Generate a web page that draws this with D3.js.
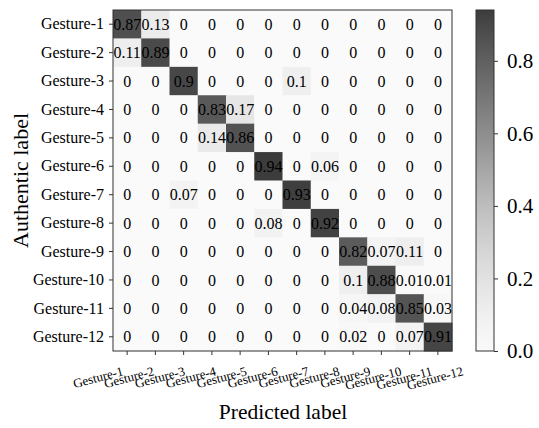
<!DOCTYPE html>
<html><head><meta charset="utf-8">
<script src="https://cdn.jsdelivr.net/npm/d3@7"></script>
<style>body{margin:0;background:#fff}svg{display:block}
svg text{font-family:"Liberation Serif","DejaVu Serif",serif !important;}</style>
</head><body>
<svg id="chart" width="539" height="428"></svg>
<script>
const labels = ["Gesture-1","Gesture-2","Gesture-3","Gesture-4","Gesture-5","Gesture-6",
  "Gesture-7","Gesture-8","Gesture-9","Gesture-10","Gesture-11","Gesture-12"];
const row1  = [0.87,0.13,0,0,0,0,0,0,0,0,0,0];
const row2  = [0.11,0.89,0,0,0,0,0,0,0,0,0,0];
const row3  = [0,0,0.9,0,0,0,0.1,0,0,0,0,0];
const row4  = [0,0,0,0.83,0.17,0,0,0,0,0,0,0];
const row5  = [0,0,0,0.14,0.86,0,0,0,0,0,0,0];
const row6  = [0,0,0,0,0,0.94,0,0.06,0,0,0,0];
const row7  = [0,0,0.07,0,0,0,0.93,0,0,0,0,0];
const row8  = [0,0,0,0,0,0.08,0,0.92,0,0,0,0];
const row9  = [0,0,0,0,0,0,0,0,0.82,0.07,0.11,0];
const row10 = [0,0,0,0,0,0,0,0,0.1,0.88,0.01,0.01];
const row11 = [0,0,0,0,0,0,0,0,0.04,0.08,0.85,0.03];
const row12 = [0,0,0,0,0,0,0,0,0.02,0,0.07,0.91];
const matrix = [row1,row2,row3,row4,row5,row6,row7,row8,row9,row10,row11,row12];
const cbTicks = [0.0,0.2,0.4,0.6,0.8];

const svg = d3.select("#chart");
const L = 113, R = 452, T = 10, B = 351;
const x = d3.scaleBand().domain(d3.range(12)).range([L, R]);
const y = d3.scaleBand().domain(d3.range(12)).range([T, B]);
const vmax = d3.max(matrix.flat());
const color = d3.scaleSequential(t => d3.interpolateGreys(0.04 + t * 0.77)).domain([0, vmax]);

const cells = [];
matrix.forEach((r, i) => r.forEach((v, j) => cells.push({i, j, v})));

svg.append("g").selectAll("rect").data(cells).join("rect")
  .attr("x", d => x(d.j)).attr("y", d => y(d.i))
  .attr("width", x.bandwidth() + 0.5).attr("height", y.bandwidth() + 0.5)
  .attr("fill", d => color(d.v));

svg.append("g").selectAll("text").data(cells).join("text")
  .attr("x", d => x(d.j) + x.bandwidth() / 2)
  .attr("y", d => y(d.i) + y.bandwidth() / 2)
  .attr("dy", "0.35em")
  .attr("text-anchor", "middle")
  .style("font-size", "16px")
  .attr("fill", "#000")
  .text(d => String(d.v));

svg.append("rect").attr("x", L).attr("y", T).attr("width", R - L).attr("height", B - T)
  .attr("fill", "none").attr("stroke", "#333").attr("stroke-width", 1);

// Y axis
const yAxis = d3.axisLeft(d3.scaleBand().domain(labels).range([T, B])).tickSize(4).tickPadding(5);
const gy = svg.append("g").attr("transform", `translate(${L},0)`).call(yAxis);
gy.select(".domain").remove();
gy.selectAll("line").attr("stroke", "#333");
gy.selectAll("text").style("font-size", "16px").attr("fill", "#000");

// X axis
const xAxis = d3.axisBottom(d3.scaleBand().domain(labels).range([L, R])).tickSize(4).tickFormat("");
const gx = svg.append("g").attr("transform", `translate(0,${B})`).call(xAxis);
gx.select(".domain").remove();
gx.selectAll("line").attr("stroke", "#333");

// x tick labels: rotated, ends laid out on a slightly wider band
const xl = d3.scalePoint().domain(labels).range([124, 464]);
svg.append("g").selectAll("text").data(labels).join("text")
  .attr("transform", d => `translate(${xl(d)},375) rotate(-15)`)
  .attr("text-anchor", "end")
  .style("font-size", "13px").attr("fill", "#000")
  .text(d => d);

// Axis titles
svg.append("text").attr("x", 283).attr("y", 419).attr("text-anchor", "middle")
  .style("font-size", "21.5px").attr("fill", "#000")
  .text("Predicted label");
svg.append("text").attr("transform", `translate(28,${(T + B) / 2}) rotate(-90)`)
  .attr("text-anchor", "middle")
  .style("font-size", "22px").attr("fill", "#000")
  .text("Authentic label");

// Colorbar
const CX = 476, CW = 18;
const defs = svg.append("defs");
const grad = defs.append("linearGradient").attr("id", "cb").attr("x1", 0).attr("y1", 1).attr("x2", 0).attr("y2", 0);
d3.range(0, 1.0001, 0.05).forEach(t => grad.append("stop").attr("offset", t).attr("stop-color", color(t * vmax)));
svg.append("rect").attr("x", CX).attr("y", T).attr("width", CW).attr("height", B - T)
  .attr("fill", "url(#cb)").attr("stroke", "#333").attr("stroke-width", 1);
const cy = d3.scaleLinear().domain([0, vmax]).range([B, T]);
const cAxis = d3.axisRight(cy).tickValues(cbTicks).tickFormat(d3.format(".1f")).tickSize(4).tickPadding(9);
const gc = svg.append("g").attr("transform", `translate(${CX + CW},0)`).call(cAxis);
gc.select(".domain").remove();
gc.selectAll("line").attr("stroke", "#333");
gc.selectAll("text").style("font-size", "21px").attr("fill", "#000");
</script>
</body></html>
